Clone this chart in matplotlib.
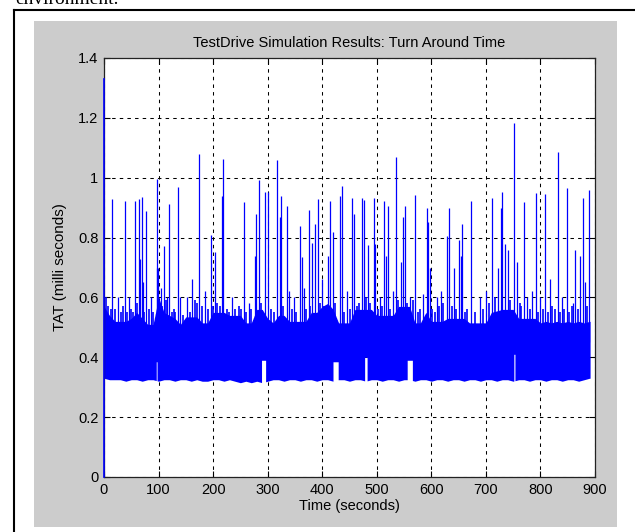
import numpy as np
import matplotlib
matplotlib.use("Agg")
import matplotlib.pyplot as plt
from matplotlib.lines import Line2D
from matplotlib.patches import Rectangle

# ---- data -------------------------------------------------------------
# envelope of the dense TAT band, sampled every 10 s (milli seconds)
band_t = np.arange(0, 900, 10)
band_upper = [0.57, 0.54, 0.52, 0.52, 0.52, 0.53, 0.55, 0.53, 0.51, 0.51,
              0.60, 0.55, 0.54, 0.53, 0.51, 0.535, 0.535, 0.535, 0.515, 0.515,
              0.55, 0.55, 0.55, 0.54, 0.54, 0.54, 0.515, 0.515, 0.56, 0.56,
              0.53, 0.515, 0.54, 0.54, 0.52, 0.52, 0.52, 0.52, 0.55, 0.55,
              0.57, 0.58, 0.56, 0.515, 0.515, 0.515, 0.56, 0.56, 0.56, 0.56,
              0.54, 0.54, 0.54, 0.54, 0.57, 0.57, 0.57, 0.515, 0.515, 0.55,
              0.52, 0.52, 0.52, 0.53, 0.53, 0.53, 0.53, 0.515, 0.515, 0.515,
              0.515, 0.55, 0.555, 0.56, 0.56, 0.56, 0.53, 0.53, 0.53, 0.53,
              0.515, 0.52, 0.515, 0.52, 0.515, 0.52, 0.515, 0.52, 0.515, 0.52]
band_lower = [0.33, 0.325, 0.325, 0.325, 0.32, 0.325, 0.325, 0.32, 0.325, 0.325,
              0.32, 0.325, 0.325, 0.32, 0.325, 0.325, 0.32, 0.325, 0.32, 0.32,
              0.325, 0.325, 0.32, 0.325, 0.32, 0.315, 0.32, 0.315, 0.32, 0.315,
              0.32, 0.325, 0.325, 0.32, 0.325, 0.325, 0.32, 0.325, 0.325, 0.32,
              0.325, 0.325, 0.32, 0.325, 0.325, 0.32, 0.325, 0.325, 0.32, 0.325,
              0.325, 0.32, 0.325, 0.325, 0.32, 0.325, 0.325, 0.32, 0.325, 0.325,
              0.32, 0.325, 0.325, 0.32, 0.325, 0.325, 0.32, 0.325, 0.325, 0.32,
              0.325, 0.325, 0.32, 0.325, 0.325, 0.32, 0.325, 0.325, 0.32, 0.325,
              0.325, 0.32, 0.325, 0.325, 0.32, 0.325, 0.325, 0.32, 0.325, 0.33]
band_end = 891.0

# intervals where the minimum TAT stays higher (start s, end s, floor)
floor_start = [96.0, 289.0, 420.0, 478.0, 556.0, 751.5]
floor_end = [97.0, 296.0, 429.0, 482.0, 565.0, 753.0]
floor_level = [0.385, 0.39, 0.385, 0.40, 0.39, 0.41]

# first samples of the run
start_t = [0.0, 0.0]
start_tat = [0.0, 1.33]

# individual TAT peaks (s, milli seconds)
peak_t = [15.3, 25, 37.9, 45, 56, 65, 66.5, 69, 71.5, 77.6, 86, 96.5, 97.5, 99,
          104, 110.6, 115, 119, 135.6, 140, 152, 160.7, 174.7, 185, 195.5,
          204, 216, 218.7, 235, 256, 265, 276, 278, 284.7, 294.5, 300,
          317.7, 322, 323.8, 334.8, 340, 348, 358.6, 363.5, 366, 375.7, 382,
          386.7, 392.2, 400, 410, 414.8, 419, 431.9, 436.2, 445, 454.5, 458,
          472.9, 477, 484, 494.3, 497, 505, 513.2, 516, 521, 530, 535.2, 544,
          547.4, 551.1, 560, 570.6, 585, 591.4, 594, 597.5, 610, 618, 628,
          632.3, 642, 651.3, 655, 656.8, 672.1, 690, 700, 711.2, 723, 727.7,
          730.2, 735, 740, 750.9, 757, 769.8, 775, 785, 791.8, 800, 808.9,
          818, 831.5, 840, 848, 860, 864, 872, 877.3, 881, 889.5]
peak_tat = [0.928, 0.60, 0.923, 0.60, 0.923, 0.928, 0.73, 0.934, 0.65, 0.89,
            0.60, 0.996, 0.70, 0.70, 0.63, 0.772, 0.60, 0.911, 0.968, 0.60,
            0.60, 0.66, 1.079, 0.62, 0.808, 0.752, 0.939, 1.061, 0.60, 0.92,
            0.58, 0.74, 0.879, 0.992, 0.952, 0.953, 1.059, 0.87, 0.939, 0.906,
            0.62, 0.60, 0.84, 0.736, 0.63, 0.892, 0.783, 0.847, 0.928, 0.66,
            0.74, 0.923, 0.82, 0.939, 0.972, 0.62, 0.931, 0.88, 0.931, 0.926,
            0.775, 0.931, 0.78, 0.60, 0.923, 0.74, 0.906, 0.62, 1.07, 0.72,
            0.87, 0.906, 0.60, 0.942, 0.61, 0.898, 0.852, 0.70, 0.60, 0.62,
            0.805, 0.898, 0.70, 0.792, 0.74, 0.845, 0.923, 0.60, 0.62, 0.931,
            0.70, 0.898, 0.952, 0.78, 0.76, 1.184, 0.72, 0.92, 0.60, 0.62,
            0.948, 0.60, 0.945, 0.66, 1.087, 0.60, 0.964, 0.58, 0.76, 0.74,
            0.931, 0.65, 0.959]

# short excursions just above the band
bump_t = [4, 8, 12, 20, 31, 34, 42, 50, 53, 60, 74, 82, 90, 107, 113, 124,
          128, 131, 145, 157, 166, 170, 180, 190, 199, 208, 212, 225, 229,
          241, 247, 251, 261, 270, 287, 306, 312, 328, 344, 352, 371, 378,
          396, 404, 424, 440, 450, 463, 467, 481, 488, 502, 509, 525, 539,
          555, 566, 576, 580, 601, 606, 614, 622, 637, 646, 661, 666, 680,
          695, 705, 716, 745, 762, 765, 780, 796, 804, 813, 822, 826, 836,
          844, 853, 857, 868, 885]
bump_tat = [0.60, 0.57, 0.56, 0.56, 0.55, 0.57, 0.55, 0.56, 0.55, 0.58, 0.55,
            0.56, 0.55, 0.57, 0.59, 0.55, 0.56, 0.55, 0.54, 0.55, 0.59, 0.58,
            0.57, 0.56, 0.57, 0.58, 0.57, 0.56, 0.55, 0.56, 0.57, 0.56, 0.55,
            0.56, 0.58, 0.56, 0.55, 0.57, 0.56, 0.55, 0.56, 0.57, 0.58, 0.57,
            0.58, 0.55, 0.56, 0.57, 0.58, 0.60, 0.58, 0.56, 0.57, 0.56, 0.59,
            0.58, 0.59, 0.55, 0.56, 0.56, 0.55, 0.57, 0.58, 0.57, 0.56, 0.55,
            0.56, 0.55, 0.56, 0.58, 0.60, 0.59, 0.58, 0.57, 0.56, 0.55, 0.56,
            0.55, 0.57, 0.56, 0.55, 0.56, 0.55, 0.57, 0.56, 0.57]
peak_base = 0.45

x_ticks = [0, 100, 200, 300, 400, 500, 600, 700, 800, 900]
y_ticks = [0, 0.2, 0.4, 0.6, 0.8, 1.0, 1.2, 1.4]
y_tick_labels = ["0", "0.2", "0.4", "0.6", "0.8", "1", "1.2", "1.4"]

# ---- figure -----------------------------------------------------------
W, H = 635, 532
plt.rcParams["font.family"] = ["Liberation Sans", "DejaVu Sans"]
plt.rcParams["lines.scale_dashes"] = False

fig = plt.figure(figsize=(W / 100, H / 100), dpi=100, facecolor="white")

# text line of the surrounding page
fig.text(15 / W, 1 - 4 / H, "environment.", family="Liberation Serif",
         fontsize=14, ha="left", va="baseline", color="black")

# page frame
fig.add_artist(Line2D([13.5 / W, 13.5 / W], [0, 1 - 9.5 / H],
                      transform=fig.transFigure, color="black", lw=1.5))
fig.add_artist(Line2D([13.5 / W, 1.0], [1 - 9.5 / H, 1 - 9.5 / H],
                      transform=fig.transFigure, color="black", lw=1.5))

# grey figure window
fig.add_artist(Rectangle((34 / W, 1 - 527 / H), (617 - 34) / W, (527 - 21) / H,
                         transform=fig.transFigure, facecolor="#cccccc",
                         edgecolor="none", zorder=0))

ax = fig.add_axes([104 / W, 1 - 477 / H, (595 - 104) / W, (477 - 58) / H])
ax.set_facecolor("white")

blue = "#0000ff"

# dense band
fine_t = np.arange(0.5, band_end + 0.25, 0.5)
upper = np.interp(fine_t, band_t, band_upper)
lower = np.interp(fine_t, band_t, band_lower)
for s, e, f in zip(floor_start, floor_end, floor_level):
    sel = (fine_t >= s) & (fine_t <= e)
    lower[sel] = np.maximum(lower[sel], f)
ax.fill_between(fine_t, lower, upper, color=blue, lw=0, step="mid", zorder=3)

# excursions and peaks
ax.vlines(bump_t, peak_base, bump_tat, colors=blue, lw=1.2, zorder=3)
ax.vlines(peak_t, peak_base, peak_tat, colors=blue, lw=0.9, zorder=3)

# start of the record, drawn over the left axis line
ax.plot(start_t, start_tat, color=blue, lw=1.2, zorder=6, clip_on=False)

ax.set_xlim(0, 900)
ax.set_ylim(0, 1.4)
ax.set_xticks(x_ticks)
ax.set_xticklabels([str(v) for v in x_ticks])
ax.set_yticks(y_ticks)
ax.set_yticklabels(y_tick_labels)

ax.grid(True, color="black", linestyle=(0, (2.5, 3.0)), linewidth=0.75)
ax.set_axisbelow(True)

ax.tick_params(direction="in", length=4, width=0.8, top=True, right=True,
               labelsize=10.5, pad=4, colors="black")
for sp in ax.spines.values():
    sp.set_linewidth(0.9)
    sp.set_color("#222222")
    sp.set_zorder(5)

ax.set_title("TestDrive Simulation Results: Turn Around Time", fontsize=10.5,
             pad=8)
ax.set_xlabel("Time (seconds)", fontsize=10.5, labelpad=2)
ax.set_ylabel("TAT (milli seconds)", fontsize=11, labelpad=8)

fig.savefig("out.png", dpi=100, facecolor="white")
